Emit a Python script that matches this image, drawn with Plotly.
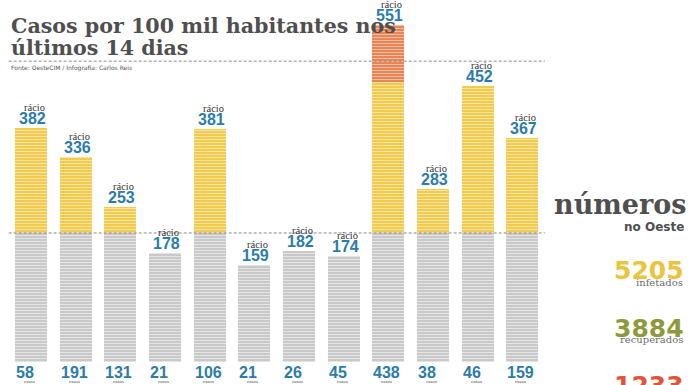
import plotly.graph_objects as go

# ---- data ----
racio = [382, 336, 253, 178, 381, 159, 182, 174, 551, 283, 452, 367]
casos = [58, 191, 131, 21, 106, 21, 26, 45, 438, 38, 46, 159]
posicoes = list(range(len(racio)))
limiar_risco = 211      # dashed line / grey-yellow split (as drawn)
limiar_alto = 492       # upper dashed line (as drawn)
inicio_laranja = 458    # orange section starts (as drawn)

totais_valores = ["5205", "3884", "1233"]
totais_rotulos = ["infetados", "recuperados", "ativos"]
totais_cores = ["#e9c43c", "#8e9a3a", "#e0553a"]

titulo = ["Casos por 100 mil habitantes nos", "últimos 14 dias"]
fonte = "Fonte: OesteCIM / Infografia: Carlos Reis"

# ---- layout geometry ----
W, H = 696, 385
PLOT_W, PLOT_H = 560, 362
BAR_W = 0.716
YMAX = 592
X0 = -0.694
X1 = X0 + PLOT_W / 44.68

BLUE = "#2b7cab"
DARK = "#4f4f4f"

cinza = [min(v, limiar_risco) for v in racio]
amarelo = [max(0, min(v, inicio_laranja) - limiar_risco) for v in racio]
laranja = [max(0, v - inicio_laranja) for v in racio]


def stripes(col):
    return dict(color=col, line=dict(width=0),
                pattern=dict(shape="-", fgcolor="white", bgcolor=col, size=3,
                             solidity=0.33, fillmode="overlay"))


fig = go.Figure()
fig.add_bar(x=posicoes, y=cinza, width=BAR_W, marker=stripes("#c9c9c9"), hoverinfo="skip")
fig.add_bar(x=posicoes, y=amarelo, width=BAR_W, marker=stripes("#f2ca4c"), hoverinfo="skip")
fig.add_bar(x=posicoes, y=laranja, width=BAR_W, marker=stripes("#ec8352"), hoverinfo="skip")

for lvl in (limiar_risco, limiar_alto):
    fig.add_shape(type="line", x0=-0.5, x1=11.5, y0=lvl, y1=lvl, xref="x", yref="y",
                  line=dict(color="#8a8a8a", width=1, dash="3px,2px"), layer="above")

ann = []
for i, (v, c) in enumerate(zip(racio, casos)):
    ann.append(dict(x=i + BAR_W / 2, y=v, xref="x", yref="y", xanchor="right", yanchor="bottom",
                    text=f"<b>{v}</b>", showarrow=False, yshift=-1, xshift=1,
                    font=dict(family="Liberation Sans", size=16, color=BLUE)))
    ann.append(dict(x=i + BAR_W / 2, y=v, xref="x", yref="y", xanchor="right", yanchor="bottom",
                    text="rácio", showarrow=False, yshift=13, xshift=0,
                    font=dict(family="Liberation Serif", size=10.5, color="#333333")))
    ann.append(dict(x=i - BAR_W / 2, y=0, xref="x", yref="y", xanchor="left", yanchor="top",
                    text=f"<b>{c}</b>", showarrow=False, yshift=0, xshift=-1,
                    font=dict(family="Liberation Sans", size=16, color=BLUE)))
    ann.append(dict(x=i - BAR_W / 2, y=0, xref="x", yref="y", xanchor="left", yanchor="top",
                    text="casos<br>confirmados", showarrow=False, yshift=-15, xshift=0,
                    font=dict(family="Liberation Serif", size=5, color="#444444")))


def px(xp):
    return xp / PLOT_W


def py(yp):
    return (PLOT_H - yp) / PLOT_H


ann.append(dict(x=px(9), y=py(26), xref="paper", yref="paper", xanchor="left", yanchor="middle",
                text=f"<b>{titulo[0]}</b>", showarrow=False,
                font=dict(family="DejaVu Serif", size=20.6, color=DARK)))
ann.append(dict(x=px(9), y=py(48), xref="paper", yref="paper", xanchor="left", yanchor="middle",
                text=f"<b>{titulo[1]}</b>", showarrow=False,
                font=dict(family="DejaVu Serif", size=20.6, color=DARK)))
ann.append(dict(x=px(9), y=py(68), xref="paper", yref="paper", xanchor="left", yanchor="middle",
                text=fonte, showarrow=False,
                font=dict(family="DejaVu Sans", size=6, color="#555555")))

ann.append(dict(x=px(688), y=py(204), xref="paper", yref="paper", xanchor="right", yanchor="middle",
                text="<b>números</b>", showarrow=False,
                font=dict(family="DejaVu Serif", size=27, color=DARK)))
ann.append(dict(x=px(686), y=py(227), xref="paper", yref="paper", xanchor="right", yanchor="middle",
                text="<b>no Oeste</b>", showarrow=False,
                font=dict(family="DejaVu Sans", size=12, color=DARK)))

centros = [271, 328, 385]
for val, lab, col, cy in zip(totais_valores, totais_rotulos, totais_cores, centros):
    ann.append(dict(x=px(686), y=py(cy), xref="paper", yref="paper", xanchor="right", yanchor="middle",
                    text=f"<b>{val}</b>", showarrow=False,
                    font=dict(family="DejaVu Sans", size=25, color=col)))
    ann.append(dict(x=px(685), y=py(cy + 11), xref="paper", yref="paper", xanchor="right", yanchor="middle",
                    text=lab, showarrow=False,
                    font=dict(family="DejaVu Serif", size=10, color="#6e6e6e")))

fig.update_layout(
    width=W, height=H, barmode="stack", showlegend=False,
    margin=dict(l=0, r=W - PLOT_W, t=0, b=H - PLOT_H, pad=0),
    paper_bgcolor="white", plot_bgcolor="white",
    xaxis=dict(range=[X0, X1], visible=False, fixedrange=True),
    yaxis=dict(range=[0, YMAX], visible=False, fixedrange=True),
    annotations=ann,
)
fig.write_html("out.html", config={"displayModeBar": False},
               post_script="document.body.style.margin='0';document.body.style.overflow='hidden';")
